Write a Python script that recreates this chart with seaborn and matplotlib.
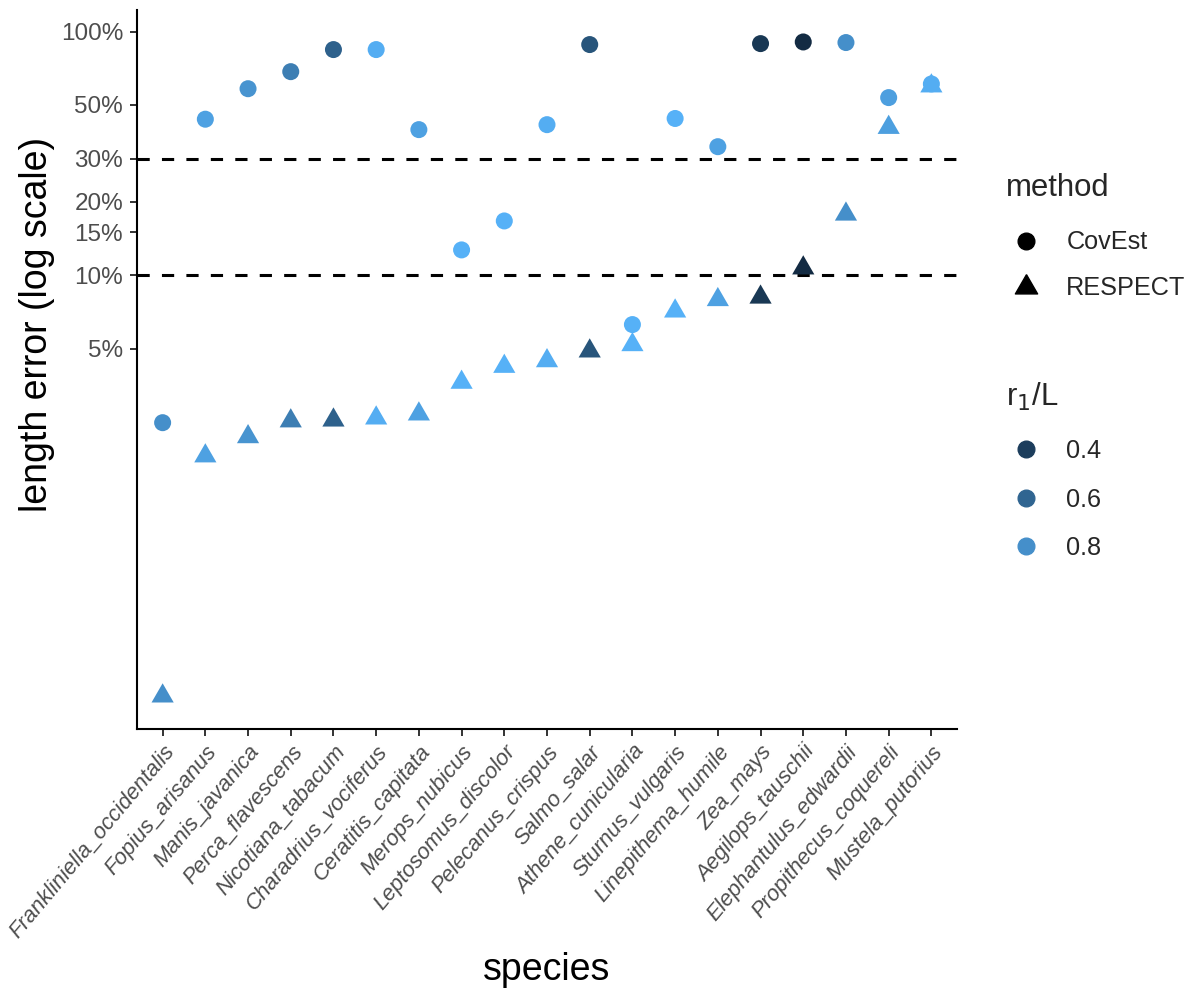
import numpy as np
import pandas as pd
import matplotlib
matplotlib.use("Agg")
import matplotlib.pyplot as plt
import seaborn as sns
from matplotlib.lines import Line2D
from matplotlib.colors import ListedColormap, Normalize
from matplotlib.markers import MarkerStyle

# ---------------- data ----------------
species = [
    "Frankliniella_occidentalis", "Fopius_arisanus", "Manis_javanica",
    "Perca_flavescens", "Nicotiana_tabacum", "Charadrius_vociferus",
    "Ceratitis_capitata", "Merops_nubicus", "Leptosomus_discolor",
    "Pelecanus_crispus", "Salmo_salar", "Athene_cunicularia",
    "Sturnus_vulgaris", "Linepithema_humile", "Zea_mays",
    "Aegilops_tauschii", "Elephantulus_edwardii", "Propithecus_coquereli",
    "Mustela_putorius",
]
# length error in percent
covest_err = [2.48, 43.7, 58.3, 68.5, 84.4, 84.4, 39.6, 12.7, 16.7, 41.5,
              88.5, 6.27, 44.0, 33.7, 89.3, 90.7, 90.2, 53.6, 61.0]
respect_err = [0.187, 1.81, 2.17, 2.52, 2.54, 2.59, 2.69, 3.63, 4.22, 4.45,
               4.88, 5.18, 7.12, 7.93, 8.12, 10.7, 17.8, 40.4, 59.8]
r1_over_L = [0.80, 0.88, 0.82, 0.72, 0.58, 0.93, 0.88, 0.95, 0.95, 0.93,
             0.52, 0.95, 0.95, 0.88, 0.37, 0.30, 0.80, 0.87, 0.93]
methods = ["CovEst", "RESPECT"]
yticks = [5, 10, 15, 20, 30, 50, 100]
thresholds = [10, 30]
legend_r = [0.4, 0.6, 0.8]

df = pd.DataFrame({
    "species": species * 2,
    "method": ["CovEst"] * len(species) + ["RESPECT"] * len(species),
    "error": covest_err + respect_err,
    "r1L": r1_over_L * 2,
})

# ---------------- ggplot-like gradient (Lab interpolation) ----------------
M = np.array([[0.4124, 0.3576, 0.1805], [0.2126, 0.7152, 0.0722], [0.0193, 0.1192, 0.9505]])
WHITE = np.array([0.95047, 1.0, 1.08883])

def hex2rgb(h):
    return np.array([int(h[i:i + 2], 16) for i in (1, 3, 5)]) / 255.0

def rgb2lab(c):
    c = np.where(c > 0.04045, ((c + 0.055) / 1.055) ** 2.4, c / 12.92)
    xyz = M @ c / WHITE
    f = np.where(xyz > 0.008856, np.cbrt(xyz), 7.787 * xyz + 16 / 116)
    return np.array([116 * f[1] - 16, 500 * (f[0] - f[1]), 200 * (f[1] - f[2])])

def lab2rgb(lab):
    fy = (lab[0] + 16) / 116
    f = np.array([fy + lab[1] / 500, fy, fy - lab[2] / 200])
    xyz = np.where(f ** 3 > 0.008856, f ** 3, (f - 16 / 116) / 7.787) * WHITE
    c = np.linalg.solve(M, xyz)
    c = np.where(c > 0.0031308, 1.055 * np.clip(c, 0, None) ** (1 / 2.4) - 0.055, 12.92 * c)
    return np.clip(c, 0, 1)

lo, hi = rgb2lab(hex2rgb("#132B43")), rgb2lab(hex2rgb("#56B1F7"))
cmap = ListedColormap([lab2rgb(lo + t * (hi - lo)) for t in np.linspace(0, 1, 256)])
norm = Normalize(vmin=min(r1_over_L), vmax=max(r1_over_L))

# R-style filled triangle (centroid at the data point)
tri = MarkerStyle([(0, 1.555), (1.347, -0.778), (-1.347, -0.778), (0, 1.555)])

# ---------------- figure ----------------
sns.set_theme(style="ticks")
plt.rcParams["font.family"] = ["Liberation Sans", "DejaVu Sans"]

fig = plt.figure(figsize=(11.93, 9.89), dpi=100)
ax = fig.add_axes([137 / 1193, 1 - 729 / 989, 820 / 1193, 719 / 989])

for yv in thresholds:
    ax.axhline(yv, color="black", lw=2.2, ls=(0, (4, 4)), zorder=1)

sns.scatterplot(data=df[df.method == "CovEst"], x="species", y="error",
                hue="r1L", palette=cmap, hue_norm=norm, marker="o", s=150,
                linewidth=0, edgecolor="none", legend=False, ax=ax, zorder=3)
sns.scatterplot(data=df[df.method == "RESPECT"], x="species", y="error",
                hue="r1L", palette=cmap, hue_norm=norm, marker=tri, s=340,
                linewidth=0, edgecolor="none", legend=False, ax=ax, zorder=3)

ax.set_yscale("log")
ax.set_ylim(0.137, 122.7)
ax.set_xlim(-0.6, len(species) - 0.4)
ax.set_yticks(yticks)
ax.set_yticklabels([f"{t}%" for t in yticks])
ax.yaxis.set_minor_locator(matplotlib.ticker.NullLocator())
ax.set_xticks(range(len(species)))
ax.set_xticklabels(species, rotation=50, ha="right", va="top",
                   rotation_mode="anchor", style="italic")

for s in ["top", "right"]:
    ax.spines[s].set_visible(False)
for s in ["left", "bottom"]:
    ax.spines[s].set_color("black")
    ax.spines[s].set_linewidth(1.5)
ax.tick_params(axis="both", colors="#333333", length=5, width=1.4,
               labelcolor="#4D4D4D")
ax.tick_params(axis="y", pad=5, labelsize=17.5)
ax.tick_params(axis="x", pad=4, labelsize=15.8)

ax.set_xlabel("species", fontsize=27, color="black")
ax.set_ylabel("length error (log scale)", fontsize=27, color="black")
ax.xaxis.set_label_coords(0.5, -0.31)
ax.yaxis.set_label_coords(-0.100, 0.562)

# ---------------- legends ----------------
h_method = [
    Line2D([], [], ls="none", marker="o", markersize=12, color="black"),
    Line2D([], [], ls="none", marker=tri, markersize=18.5, color="black"),
]
leg1 = fig.legend(h_method, methods, title="method", loc="upper left",
                  bbox_to_anchor=(993 / 1193, 1 - 160 / 989), frameon=False,
                  fontsize=18.2, title_fontsize=22.4, alignment="left",
                  handletextpad=0.8, labelspacing=0.87, borderpad=0,
                  handlelength=1.6)
leg1._legend_box.sep = 20
h_r = [Line2D([], [], ls="none", marker="o", markersize=12,
              color=cmap(norm(v))) for v in legend_r]
leg2 = fig.legend(h_r, [f"{v}" for v in legend_r], title=r"r$_1$/L",
                  loc="upper left", bbox_to_anchor=(993 / 1193, 1 - 368 / 989),
                  frameon=False, fontsize=18.2, title_fontsize=22.4,
                  alignment="left", handletextpad=0.8, labelspacing=0.97,
                  borderpad=0, handlelength=1.6)
leg2._legend_box.sep = 19

fig.savefig("out.png", dpi=100, facecolor="white")
